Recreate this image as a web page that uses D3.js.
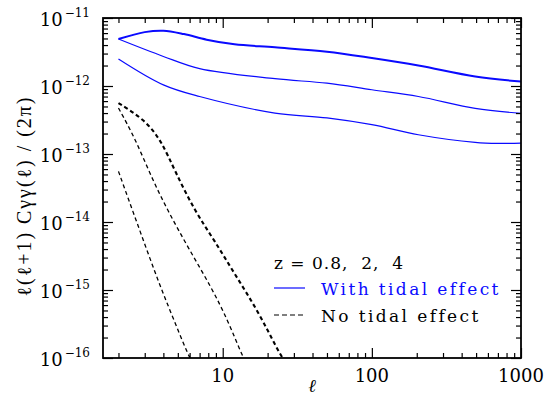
<!DOCTYPE html>
<html>
<head>
<meta charset="utf-8">
<script src="https://cdn.jsdelivr.net/npm/d3@7"></script>
<style>
  body { margin: 0; background: #fff; }
  text { font-family: "DejaVu Serif", serif; fill: #000; }
</style>
</head>
<body>
<div id="chart"></div>
<script>
// multipoles l and l(l+1)C(l)/(2pi)
// solid = with tidal effect, dashed = no tidal effect; z = 0.8, 2, 4
var tidal_l = [
    [2, 3, 4, 5.5, 7.8, 12, 22.4, 50, 100, 205, 493, 1000],
    [2, 4, 7, 22.4, 50, 100, 205, 493, 1000],
    [2, 4, 7, 22.4, 50, 100, 205, 493, 700, 1000]
];
var tidal_c = [
    [4.9e-12, 6.2e-12, 6.5e-12, 5.8e-12, 4.8e-12, 4.1e-12, 3.7e-12, 3.2e-12, 2.58e-12, 2.0e-12, 1.38e-12, 1.16e-12],
    [4.9e-12, 2.72e-12, 1.8e-12, 1.28e-12, 1.1e-12, 8.8e-13, 7.0e-13, 4.7e-13, 3.95e-13],
    [2.5e-12, 1.04e-12, 7.0e-13, 4.0e-13, 3.4e-13, 2.7e-13, 1.92e-13, 1.48e-13, 1.43e-13, 1.45e-13]
];
var notidal_l = [
    [2, 3.01, 3.9, 4.79, 6.52, 8.88, 12.1, 17.3, 23.6, 26],
    [2, 2.58, 3.34, 4.31, 5.88, 8.44, 10.9, 13.4, 14.5],
    [2, 2.45, 3.01, 3.7, 4.55, 5.73, 6.2]
];
var notidal_c = [
    [5.62e-13, 3.19e-13, 1.53e-13, 5.55e-14, 1.43e-14, 5.19e-15, 1.68e-15, 4.84e-16, 1.25e-16, 9e-17],
    [4.74e-13, 1.72e-13, 4.44e-14, 1.43e-14, 4.15e-15, 1.07e-15, 3.45e-16, 1.12e-16, 8.2e-17],
    [5.55e-14, 1.61e-14, 4.63e-15, 1.34e-15, 4.34e-16, 1.25e-16, 8.9e-17]
];
var lineWidths = [2, 1.2, 1.2];
var xTickLabels = [10, 100, 1000];
var yTickExps = [-11, -12, -13, -14, -15, -16];
var legendTitle = "z = 0.8,  2,  4";
var legendLabels = ["With tidal effect", "No tidal effect"];

var W = 550, H = 401;
var margin = {top: 18, right: 29, bottom: 43, left: 103};
var width = W - margin.left - margin.right,
    height = H - margin.top - margin.bottom;

var x = d3.scaleLog().domain([1.575, 1000]).range([0, width]);
var y = d3.scaleLog().domain([1e-16, 1e-11]).range([height, 0]);

var svg = d3.select("#chart").append("svg")
    .attr("width", W).attr("height", H);
var g = svg.append("g")
    .attr("transform", "translate(" + margin.left + "," + margin.top + ")");

g.append("clipPath").attr("id", "clip")
    .append("rect").attr("width", width).attr("height", height);

var line = d3.line()
    .x(function(d) { return x(d[0]); })
    .y(function(d) { return y(d[1]); })
    .curve(d3.curveCatmullRom.alpha(0.5));

// the dashed readings are noisier, smooth them a bit
var smoothLine = d3.line()
    .x(function(d) { return x(d[0]); })
    .y(function(d) { return y(d[1]); })
    .curve(d3.curveBasis);

var plot = g.append("g").attr("clip-path", "url(#clip)");

// with tidal effect
for (var i = 0; i < tidal_l.length; i++) {
    plot.append("path")
        .datum(d3.zip(tidal_l[i], tidal_c[i]))
        .attr("d", line)
        .attr("fill", "none")
        .attr("stroke", "#0a0aff")
        .attr("stroke-width", lineWidths[i]);
}
// no tidal effect
for (var i = 0; i < notidal_l.length; i++) {
    plot.append("path")
        .datum(d3.zip(notidal_l[i], notidal_c[i]))
        .attr("d", smoothLine)
        .attr("fill", "none")
        .attr("stroke", "#000")
        .attr("stroke-width", lineWidths[i] + 0.1)
        .attr("stroke-dasharray", "4,3");
}

// tick values
var xMinor = [], xMajor = [];
for (var e = 0; e < 3; e++) {
    for (var k = 1; k < 10; k++) {
        var v = k * Math.pow(10, e);
        if (v < x.domain()[0]) continue;
        if (k == 1) xMajor.push(v); else xMinor.push(v);
    }
}
xMajor.push(1000);
var yMinor = [], yMajor = [];
for (var e = -16; e < -11; e++) {
    for (var k = 2; k < 10; k++) yMinor.push(k * Math.pow(10, e));
}
yTickExps.forEach(function(e) { yMajor.push(Math.pow(10, e)); });

// ticks on all four sides, pointing inward
function ticks(axis, vals, len, tx, ty) {
    g.append("g").attr("transform", "translate(" + tx + "," + ty + ")")
        .call(axis.tickValues(vals).tickSize(len).tickFormat(""))
        .call(function(s) {
            s.select(".domain").remove();
            s.selectAll("line").attr("stroke", "#000").attr("stroke-width", 1.2);
        });
}
ticks(d3.axisTop(x), xMinor, -5, 0, 0);
ticks(d3.axisTop(x), xMajor, -10, 0, 0);
ticks(d3.axisBottom(x), xMinor, -5, 0, height);
ticks(d3.axisBottom(x), xMajor, -10, 0, height);
ticks(d3.axisRight(y), yMinor, 5, 0, 0);
ticks(d3.axisRight(y), yMajor, 10, 0, 0);
ticks(d3.axisLeft(y), yMinor, 5, width, 0);
ticks(d3.axisLeft(y), yMajor, 10, width, 0);

// frame
g.append("rect").attr("width", width).attr("height", height)
    .attr("fill", "none").attr("stroke", "#000").attr("stroke-width", 1.8);

// x tick labels
xTickLabels.forEach(function(v) {
    g.append("text")
        .attr("x", x(v)).attr("y", height + 24)
        .attr("text-anchor", "middle")
        .style("font-size", "18px")
        .text(v);
});

// y tick labels 10^e
yTickExps.forEach(function(e) {
    var t = g.append("text")
        .attr("x", -13).attr("y", y(Math.pow(10, e)) + 8)
        .attr("text-anchor", "end")
        .style("font-size", "18px");
    t.append("tspan").text("10");
    t.append("tspan").attr("dx", 2).attr("dy", -9).style("font-size", "12px").text("\u2212" + (-e));
});

// axis titles
g.append("text")
    .attr("x", width / 2).attr("y", height + 34)
    .attr("text-anchor", "middle")
    .style("font-size", "18px").style("font-style", "italic")
    .text("\u2113");

g.append("text")
    .attr("transform", "translate(" + (-72) + "," + (height / 2 + 9) + ") rotate(-90)")
    .attr("text-anchor", "middle")
    .attr("textLength", 199).attr("lengthAdjust", "spacing")
    .style("font-family", "'Liberation Serif', serif")
    .style("font-size", "20px")
    .text("\u2113(\u2113+1) C\u03B3\u03B3(\u2113) / (2\u03C0)");

// legend
var lx = 171, ly = 251;
g.append("text").attr("x", lx).attr("y", ly)
    .style("font-size", "17px").style("letter-spacing", "1px")
    .style("white-space", "pre")
    .text(legendTitle);
g.append("line").attr("x1", lx).attr("x2", lx + 31)
    .attr("y1", ly + 19).attr("y2", ly + 19)
    .attr("stroke", "#0a0aff").attr("stroke-width", 1.2);
g.append("text").attr("x", lx + 47).attr("y", ly + 26)
    .style("font-size", "17px").style("letter-spacing", "2.4px")
    .style("fill", "#0a0aff")
    .text(legendLabels[0]);
g.append("line").attr("x1", lx).attr("x2", lx + 31)
    .attr("y1", ly + 46).attr("y2", ly + 46)
    .attr("stroke", "#000").attr("stroke-width", 1.2)
    .attr("stroke-dasharray", "5,3");
g.append("text").attr("x", lx + 47).attr("y", ly + 53)
    .style("font-size", "17px").style("letter-spacing", "2.4px")
    .text(legendLabels[1]);
</script>
</body>
</html>
